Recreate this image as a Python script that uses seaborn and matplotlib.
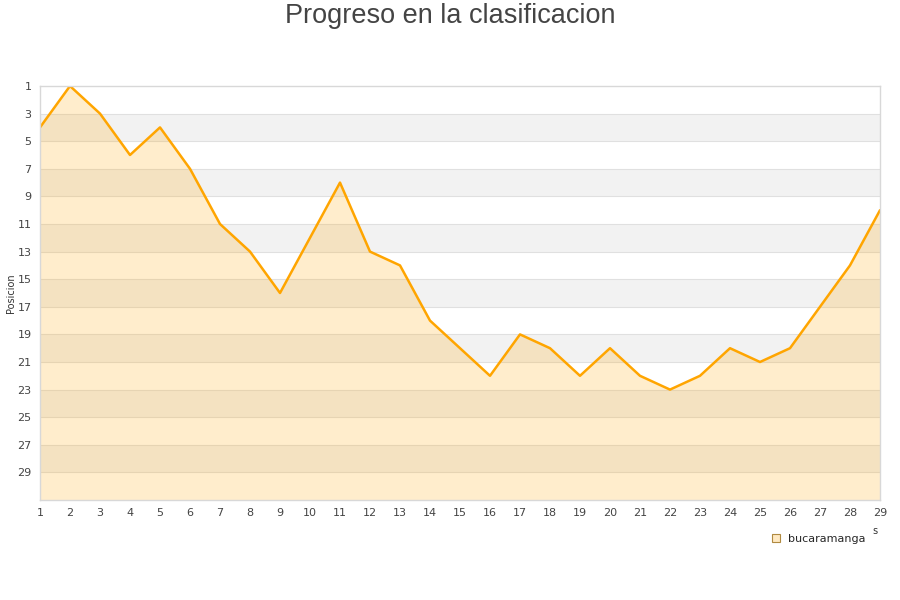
import matplotlib
matplotlib.use("Agg")
import matplotlib.pyplot as plt
import seaborn as sns
import pandas as pd
from matplotlib.lines import Line2D

jornadas = list(range(1, 30))
posiciones = [4, 1, 3, 6, 4, 7, 11, 13, 16, 12, 8, 13, 14, 18, 20, 22, 19, 20, 22, 20, 22, 23, 22, 20, 21, 20, 17, 14, 10]
equipo = "bucaramanga"
y_ticks = list(range(1, 30, 2))

df = pd.DataFrame({"Jornada": jornadas, "Posicion": posiciones})

sns.set_style("white")
plt.rcParams['font.family'] = ['DejaVu Sans']

fig = plt.figure(figsize=(9, 6), dpi=100)
ax = fig.add_axes([40/900, 1-500/600, 840/900, 414/600])

# alternating bands
for i, start in enumerate(range(1, 31, 2)):
    if i % 2 == 1:
        ax.axhspan(start, start + 2, color="#f2f2f2", zorder=0, lw=0)
for t in y_ticks[1:]:
    ax.axhline(t, color="#e0e0e0", lw=0.8, zorder=0.5)

ax.fill_between(df["Jornada"], df["Posicion"], 31, color="#ffa500", alpha=0.2, lw=0, zorder=1)
sns.lineplot(data=df, x="Jornada", y="Posicion", color="#ffa500", lw=1.8, ax=ax, zorder=2)

ax.set_xlim(1, 29)
ax.set_ylim(31, 1)
ax.set_xticks(jornadas)
ax.set_yticks(y_ticks)
ax.tick_params(axis="both", labelsize=8, colors="#444444", length=0, pad=6)
ax.set_xlabel("")
ax.set_ylabel("")
for s in ax.spines.values():
    s.set_color("#d8d8d8")
    s.set_linewidth(1)

fig.text(11/900, 1-293/600, "Posicion", rotation=90, ha="center", va="center",
         fontsize=7, color="#333333")
fig.text(0.5, 1-16/600, "Progreso en la clasificacion", ha="center", va="center",
         fontsize=19.5, color="#444444", family="Liberation Sans")
fig.text(875/900, 1-531/600, "s", ha="center", va="center", fontsize=7, color="#333333")

handle = Line2D([0], [0], marker="s", linestyle="none", markersize=6,
                markerfacecolor="#ffe9c2", markeredgecolor="#b08a40", markeredgewidth=0.8)
fig.legend([handle], [equipo], loc="center left", bbox_to_anchor=(760/900, 1-539/600),
           frameon=False, fontsize=8, handletextpad=0.6, handlelength=1)

fig.savefig("out.png", dpi=100)
